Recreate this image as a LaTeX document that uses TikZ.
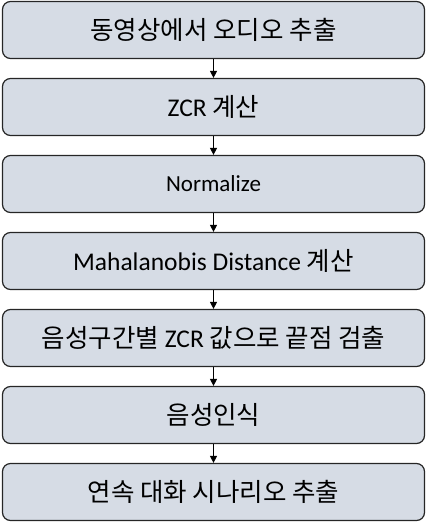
\documentclass[tikz,border=0pt]{standalone}
\usepackage{fontspec}
\setmainfont{Carlito}
\newfontfamily\kr{Noto Sans CJK KR}
\usetikzlibrary{arrows.meta}
\begin{document}
\begin{tikzpicture}[x=1pt,y=-1pt,
  stepbox/.style={draw=black!85, line width=1.2pt, fill=boxfill, rounded corners=8pt,
    minimum width=422pt, minimum height=57pt, inner sep=0pt, font=\fontsize{25.5}{30}\selectfont},
  conn/.style={draw=black, line width=1pt, -{Triangle[width=7pt,length=7pt]}}]
\definecolor{boxfill}{HTML}{D6DCE5}
\useasboundingbox (0,0) rectangle (427,523);
\node[stepbox] (b1) at (213.5,30) {\kr 동영상에서 오디오 추출};
\node[stepbox] (b2) at (213.5,107) {ZCR {\kr 계산}};
\node[stepbox, font=\fontsize{23}{27}\selectfont] (b3) at (213.5,184) {Normalize};
\node[stepbox] (b4) at (213.5,261) {Mahalanobis Distance {\kr 계산}};
\node[stepbox] (b5) at (213.5,338) {{\kr 음성구간별} ZCR {\kr 값으로 끝점 검출}};
\node[stepbox] (b6) at (213.5,415) {\kr 음성인식};
\node[stepbox] (b7) at (213.5,492) {\kr 연속 대화 시나리오 추출};
\foreach \a/\b in {b1/b2,b2/b3,b3/b4,b4/b5,b5/b6,b6/b7}
  \draw[conn] (\a.south) -- (\b.north);
\end{tikzpicture}
\end{document}
